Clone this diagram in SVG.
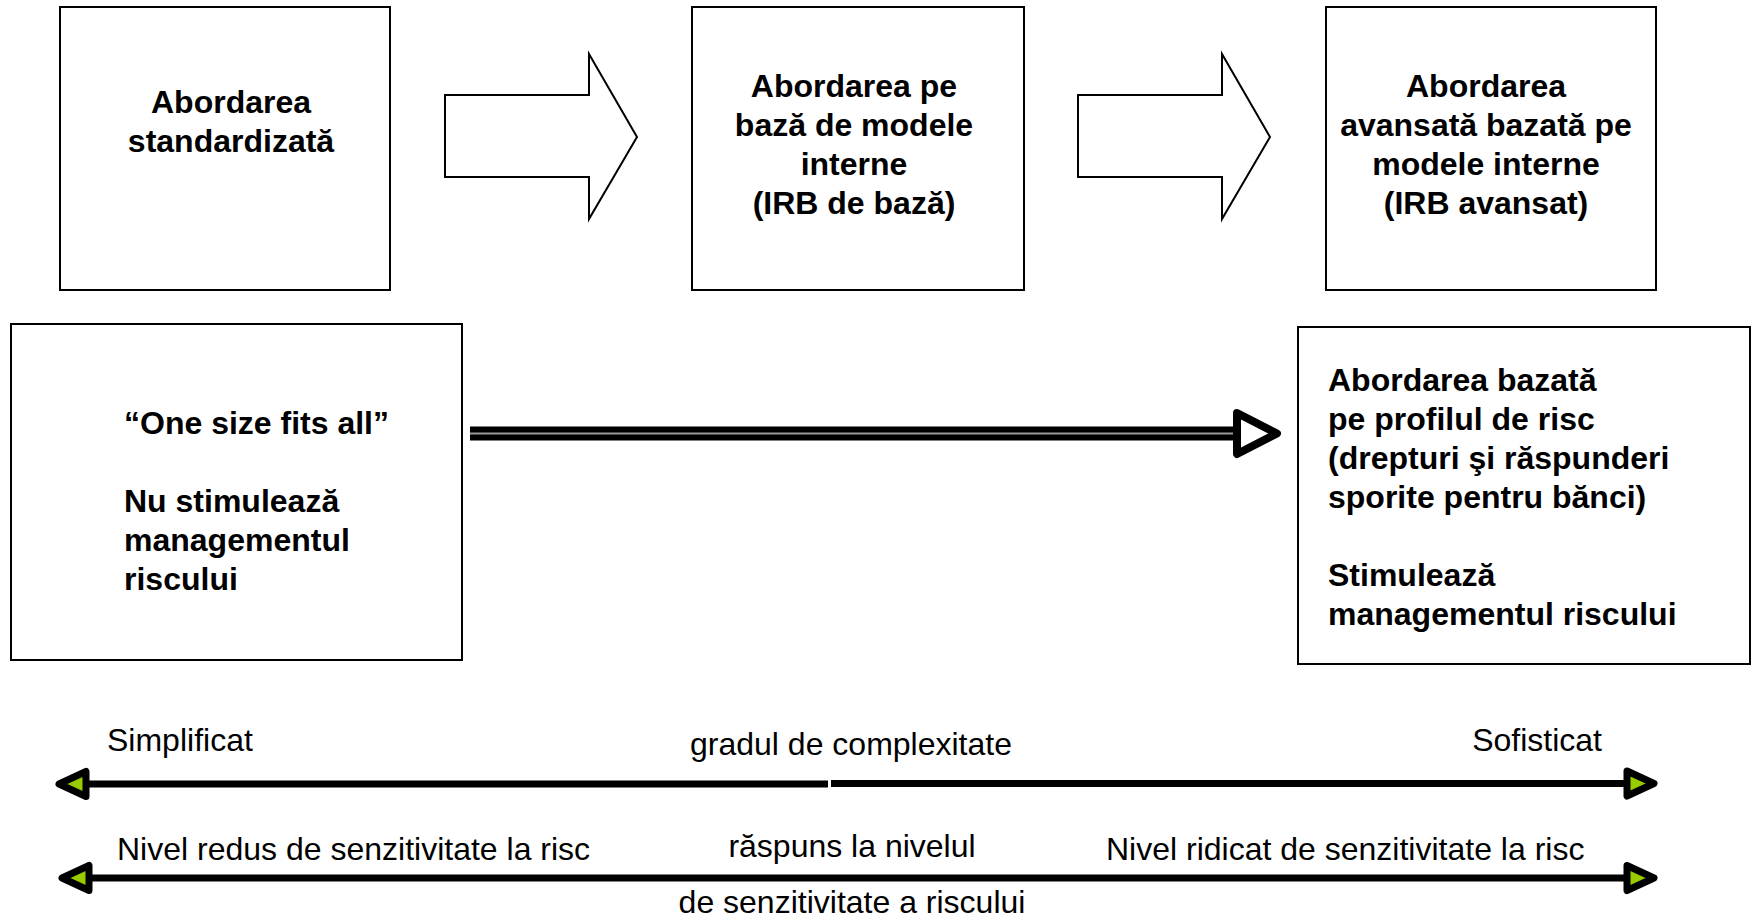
<svg xmlns="http://www.w3.org/2000/svg" width="1754" height="922" viewBox="0 0 1754 922">
<style>
.box{fill:#fff;stroke:#000;stroke-width:2}
.blk{fill:#fff;stroke:#000;stroke-width:2;stroke-linejoin:miter}
text{font-family:"Liberation Sans",Arial,sans-serif;font-size:32px;fill:#000}
.b{font-weight:bold}
.c{text-anchor:middle}
.ln{fill:none;stroke:#000;stroke-width:7}
</style>
<defs>
<marker id="gHead" markerUnits="userSpaceOnUse" markerWidth="50" markerHeight="50" viewBox="-40 -25 50 50" refX="0" refY="0" orient="auto-start-reverse" overflow="visible">
<path d="M-27,-12.5 L0,0 L-27,12.5 Z" fill="#99cc00" stroke="#000" stroke-width="7" stroke-linejoin="round"/>
</marker>
</defs>
<rect width="1754" height="922" fill="#fff"/>

<g id="node-standard">
<rect class="box" x="60" y="7" width="330" height="283"/>
<text class="b c" x="231" y="113">Abordarea</text>
<text class="b c" x="231" y="152">standardizată</text>
</g>

<g id="node-irb-baza">
<rect class="box" x="692" y="7" width="332" height="283"/>
<text class="b c" x="854" y="97">Abordarea pe</text>
<text class="b c" x="854" y="136">bază de modele</text>
<text class="b c" x="854" y="175">interne</text>
<text class="b c" x="854" y="214">(IRB de bază)</text>
</g>

<g id="node-irb-avansat">
<rect class="box" x="1326" y="7" width="330" height="283"/>
<text class="b c" x="1486" y="97">Abordarea</text>
<text class="b c" x="1486" y="136">avansată bazată pe</text>
<text class="b c" x="1486" y="175">modele interne</text>
<text class="b c" x="1486" y="214">(IRB avansat)</text>
</g>

<g id="node-one-size">
<rect class="box" x="11" y="324" width="451" height="336"/>
<text class="b" x="124" y="434">“One size fits all”</text>
<text class="b" x="124" y="512">Nu stimulează</text>
<text class="b" x="124" y="551">managementul</text>
<text class="b" x="124" y="590">riscului</text>
</g>

<g id="node-profil-risc">
<rect class="box" x="1298" y="327" width="452" height="337"/>
<text class="b" x="1328" y="391">Abordarea bazată</text>
<text class="b" x="1328" y="430">pe profilul de risc</text>
<text class="b" x="1328" y="469">(drepturi şi răspunderi</text>
<text class="b" x="1328" y="508">sporite pentru bănci)</text>
<text class="b" x="1328" y="586">Stimulează</text>
<text class="b" x="1328" y="625">managementul riscului</text>
</g>

<g id="connectors">
<polygon class="blk" points="445,95 589,95 589,54 637,137 589,219 589,177 445,177"/>
<polygon class="blk" points="1078,95 1222,95 1222,54 1270,137 1222,219 1222,177 1078,177"/>
<line x1="470" y1="433.5" x2="1240" y2="433.5" stroke="#000" stroke-width="14"/>
<line x1="470" y1="433.5" x2="1238" y2="433.5" stroke="#9a9a9a" stroke-width="2"/>
<polygon points="1237,413 1277,433.5 1237,454" fill="#fff" stroke="#000" stroke-width="8" stroke-linejoin="round"/>
<path class="ln" d="M59,784 H828 M831,783.5 H1654" marker-start="url(#gHead)" marker-end="url(#gHead)"/>
<path class="ln" d="M62,878 H1654" marker-start="url(#gHead)" marker-end="url(#gHead)"/>
</g>

<g id="labels">
<text x="107" y="751">Simplificat</text>
<text class="c" x="851" y="755">gradul de complexitate</text>
<text x="1602" y="751" text-anchor="end">Sofisticat</text>
<text x="117" y="860">Nivel redus de senzitivitate la risc</text>
<text class="c" x="852" y="857">răspuns la nivelul</text>
<text x="1106" y="860">Nivel ridicat de senzitivitate la risc</text>
<text class="c" x="852" y="913">de senzitivitate a riscului</text>
</g>
</svg>
